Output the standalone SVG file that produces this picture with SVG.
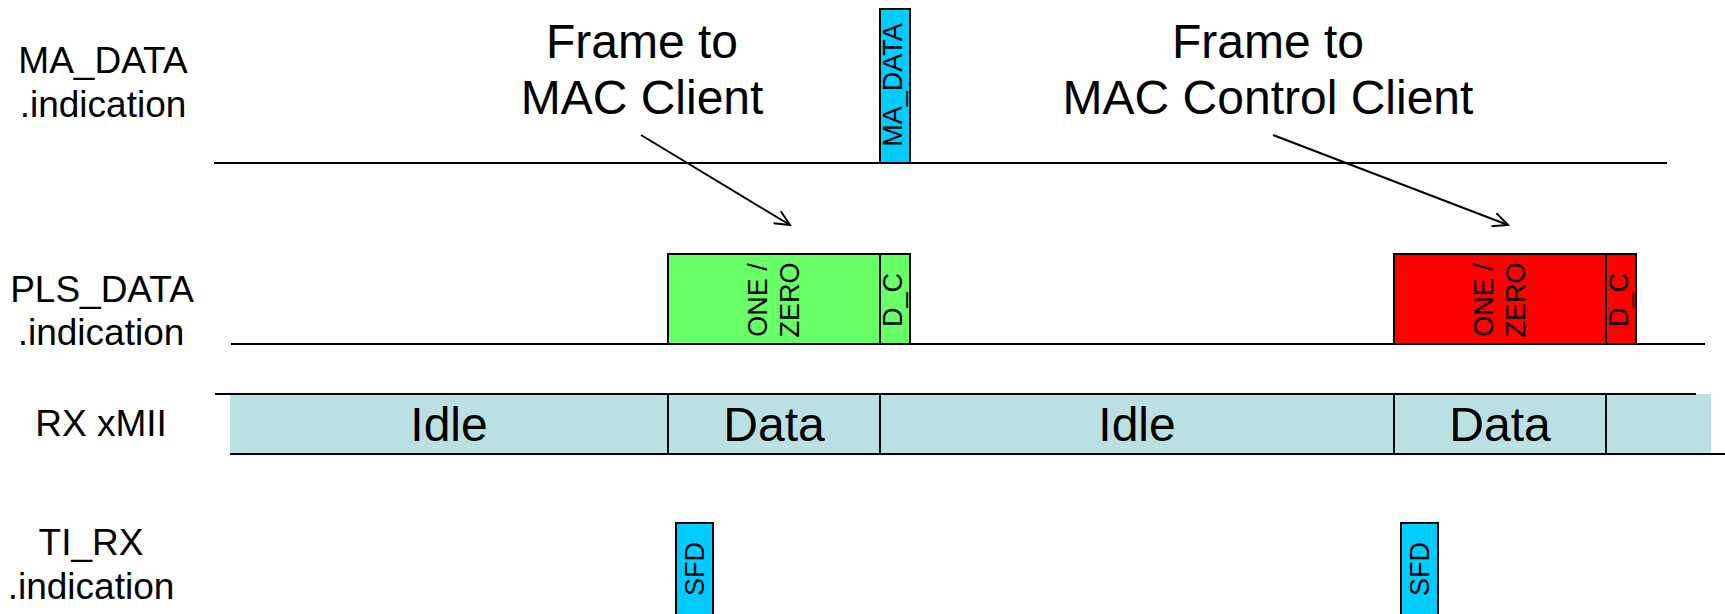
<svg xmlns="http://www.w3.org/2000/svg" width="1725" height="614" viewBox="0 0 1725 614">
<style>
text { font-family: "Liberation Sans", Arial, sans-serif; fill: #000; }
.lbl { font-size: 37px; text-anchor: middle; }
.big { font-size: 48px; text-anchor: middle; }
.rot { font-size: 27px; text-anchor: middle; }
.ln { stroke: #000; stroke-width: 2; fill: none; }
.box { stroke: #000; stroke-width: 2; }
.cyan { fill: #00CCFF; }
.green { fill: #66FF66; }
.red { fill: #FF0000; }
.bar { fill: #BBE0E3; }
</style>
<defs>
<marker id="arr" markerUnits="userSpaceOnUse" markerWidth="18" markerHeight="16" refX="16" refY="8" orient="auto">
<path d="M1,1 L16,8 L1,15" fill="none" stroke="#000" stroke-width="2"/>
</marker>
</defs>
<rect width="1725" height="614" fill="#fff"/>

<g id="labels">
<text class="lbl" x="103" y="73">MA_DATA</text>
<text class="lbl" x="103" y="117">.indication</text>
<text class="lbl" x="102" y="302">PLS_DATA</text>
<text class="lbl" x="101" y="345">.indication</text>
<text class="lbl" x="101" y="436">RX xMII</text>
<text class="lbl" x="91" y="555">TI_RX</text>
<text class="lbl" x="91" y="599">.indication</text>
</g>

<g id="timelines">
<line class="ln" x1="214" y1="163" x2="1667" y2="163"/>
<line class="ln" x1="231" y1="344" x2="1705" y2="344"/>
</g>

<g id="rx-bar">
<rect class="bar" x="230" y="394" width="1481" height="60"/>
<line class="ln" x1="215" y1="394" x2="1696" y2="394"/>
<line class="ln" x1="230" y1="454" x2="1725" y2="454"/>
<line class="ln" x1="668" y1="394" x2="668" y2="454"/>
<line class="ln" x1="880" y1="394" x2="880" y2="454"/>
<line class="ln" x1="1394" y1="394" x2="1394" y2="454"/>
<line class="ln" x1="1606" y1="394" x2="1606" y2="454"/>
<text class="big" x="449" y="441">Idle</text>
<text class="big" x="774" y="441">Data</text>
<text class="big" x="1137" y="441">Idle</text>
<text class="big" x="1500" y="441">Data</text>
</g>

<g id="frame-mac-client">
<text class="big" x="642" y="58">Frame to</text>
<text class="big" x="642" y="114">MAC Client</text>
</g>

<g id="frame-mac-control-client">
<text class="big" x="1268" y="58">Frame to</text>
<text class="big" x="1268" y="114">MAC Control Client</text>
</g>

<g id="ma-data-box">
<rect class="box cyan" x="880" y="9" width="30" height="154"/>
<text class="rot" transform="translate(895,85) rotate(-90)" y="6.5">MA_DATA</text>
</g>

<g id="pls-green">
<rect class="box green" x="668" y="254" width="212" height="90"/>
<rect class="box green" x="880" y="254" width="30" height="90"/>
<text class="rot" transform="translate(774,300) rotate(-90)"><tspan x="0" y="-7">ONE /</tspan><tspan x="0" y="25">ZERO</tspan></text>
<text class="rot" transform="translate(895,300) rotate(-90)" y="6.5">D_C</text>
</g>

<g id="pls-red">
<rect class="box red" x="1394" y="254" width="212" height="90"/>
<rect class="box red" x="1606" y="254" width="30" height="90"/>
<text class="rot" transform="translate(1500,300) rotate(-90)"><tspan x="0" y="-7">ONE /</tspan><tspan x="0" y="25">ZERO</tspan></text>
<text class="rot" transform="translate(1621,300) rotate(-90)" y="6.5">D_C</text>
</g>

<g id="sfd-1">
<rect class="box cyan" x="676" y="523" width="37" height="100"/>
<text class="rot" transform="translate(694.5,569) rotate(-90)" y="9">SFD</text>
</g>

<g id="sfd-2">
<rect class="box cyan" x="1401" y="523" width="37" height="100"/>
<text class="rot" transform="translate(1419.5,569) rotate(-90)" y="9">SFD</text>
</g>

<g id="connectors">
<line class="ln" x1="641" y1="135" x2="790" y2="225" marker-end="url(#arr)"/>
<line class="ln" x1="1273" y1="135" x2="1508" y2="225" marker-end="url(#arr)"/>
</g>
</svg>
